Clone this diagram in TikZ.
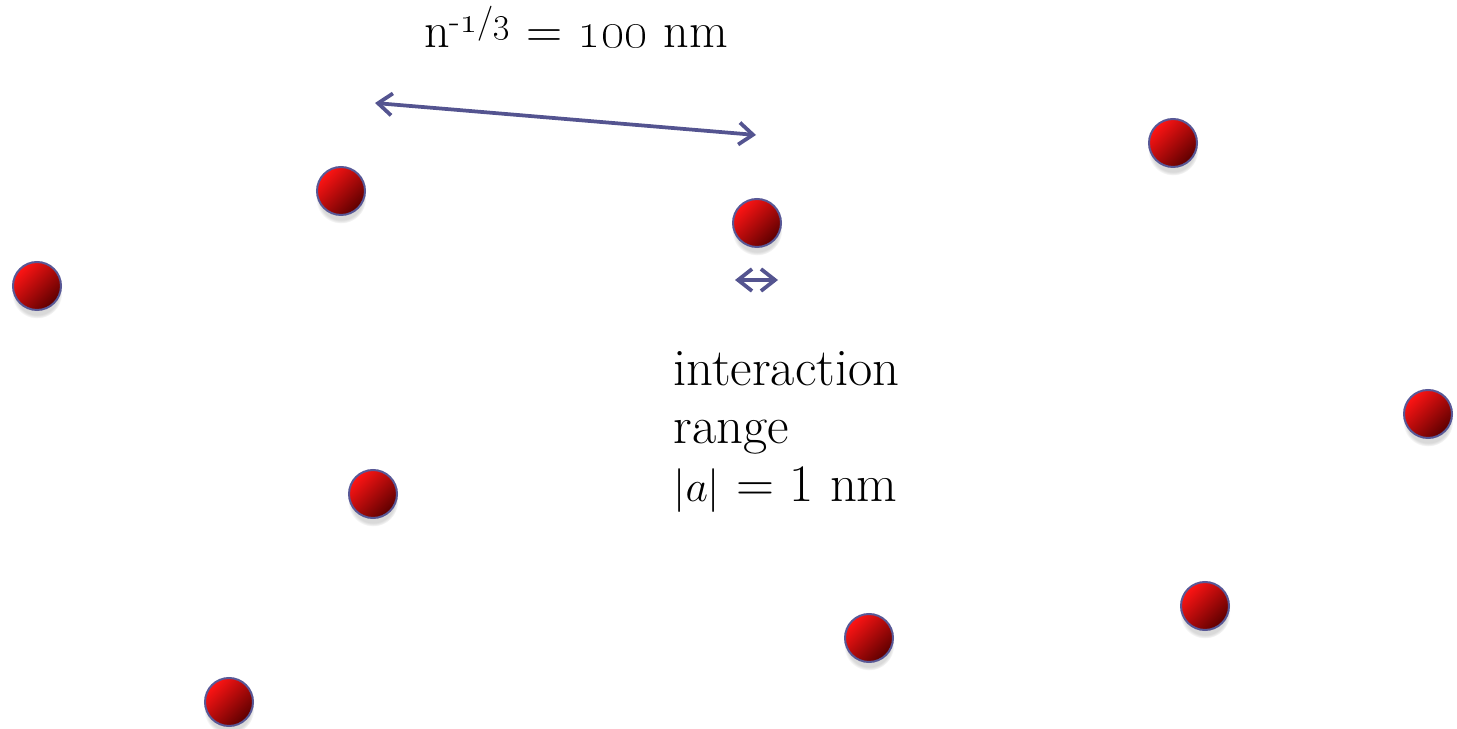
\documentclass[tikz,border=0pt]{standalone}
\usepackage{amsmath}
\usepackage{tikz}
\usetikzlibrary{arrows.meta, shadows}

\definecolor{linkblue}{RGB}{84,84,144}
\definecolor{atomrim}{RGB}{88,88,150}
\definecolor{atomlight}{RGB}{255,20,20}
\definecolor{atommid}{RGB}{205,0,0}
\definecolor{atomdark}{RGB}{92,0,0}

\begin{document}
\begin{tikzpicture}[
    x=0.2mm, y=-0.2mm,
    atom/.style={
        circle, draw=atomrim, line width=0.4mm,
        minimum size=9.6mm, inner sep=0pt,
        top color=atomlight, middle color=atommid, bottom color=atomdark,
        shading angle=45,
        circular drop shadow={shadow xshift=0mm, shadow yshift=-1.4mm,
            shadow scale=1.05, opacity=0.3}
    },
    label/.style={inner sep=0pt, font=\fontsize{30pt}{33pt}\selectfont},
    arrow/.style={{Straight Barb[length=2.8mm, width=4.4mm]}-{Straight Barb[length=2.8mm, width=4.4mm]},
        draw=linkblue, line width=0.75mm, line cap=round},
]

\useasboundingbox (0,0) rectangle (1457,729);

% ---------- Atoms ----------
\node[atom] (atomA) at (341,191) {};
\node[atom] (atomB) at (757,223) {};
\node[atom] (atomC) at (1173,143) {};
\node[atom] (atomD) at (37,286) {};
\node[atom] (atomE) at (1428,414) {};
\node[atom] (atomF) at (373,494) {};
\node[atom] (atomG) at (869,638) {};
\node[atom] (atomH) at (1205,606) {};
\node[atom] (atomI) at (229,702) {};

% ---------- Labels ----------
\node[label, anchor=base west, font=\fontsize{28.5pt}{33pt}\selectfont] (spacing) at (424,48)
    {n\textsuperscript{-\oldstylenums{1}/\oldstylenums{3}} = \oldstylenums{100} nm};
\node[label, anchor=north west, align=left] (range) at (673,351)
    {interaction\\range\\$|a|$ = 1 nm};

% ---------- Arrows ----------
\coordinate (sepL) at (375,103);
\coordinate (sepR) at (756,135);
\coordinate (rangeL) at (735,280);
\coordinate (rangeR) at (778,280);

\draw[arrow] (sepL) -- (sepR);
\draw[arrow] (rangeL) -- (rangeR);

\end{tikzpicture}
\end{document}
